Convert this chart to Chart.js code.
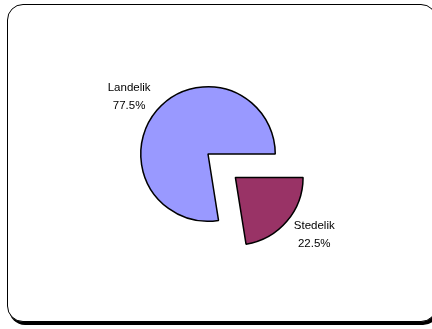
<!DOCTYPE html>
<html>
<head>
<meta charset="utf-8">
<script src="https://cdn.jsdelivr.net/npm/chart.js@4/dist/chart.umd.min.js"></script>
<style>
  html, body { margin: 0; padding: 0; background: #fff; overflow: hidden; }
  body { width: 432px; height: 329px; position: relative; }
  #frame {
    position: absolute; left: 7px; top: 4px; width: 430px; height: 318px;
    border: 1px solid #000; border-radius: 16px; box-sizing: border-box;
    box-shadow: 2px 3px 0 #000; background: #fff;
  }
  #wrap { position: absolute; left: 0; top: 0; width: 432px; height: 329px; }
</style>
</head>
<body>
<div id="frame"></div>
<div id="wrap"><canvas id="c" width="432" height="329"></canvas></div>
<script>
// Population share by settlement type
const categories = ['Stedelik', 'Landelik'];
const shares = [22.5, 77.5];
const sliceColors = ['#993366', '#9999FF'];
const explodePx = [36, 0];   // how far each slice is pulled out, in pixels

// Chart.js moves an arc by offset / 4, so scale the pull-out distance
const ARC_OFFSET_SCALE = 4;

// Draws "name / value%" labels outside each slice
const outsideLabels = {
  id: 'outsideLabels',
  afterDatasetsDraw(chart) {
    const ctx = chart.ctx;
    const meta = chart.getDatasetMeta(0);
    ctx.save();
    ctx.font = '11.5px "Liberation Sans", Arial, sans-serif';
    ctx.fillStyle = '#000';
    ctx.textAlign = 'center';
    ctx.textBaseline = 'middle';
    meta.data.forEach((arc, i) => {
      const p = arc.getProps(['x', 'y', 'startAngle', 'endAngle', 'outerRadius'], true);
      const mid = (p.startAngle + p.endAngle) / 2;
      const cx = p.x + Math.cos(mid) * explodePx[i];
      const cy = p.y + Math.sin(mid) * explodePx[i];
      const a = mid - 4.5 * Math.PI / 180;
      const r = p.outerRadius * 1.45;
      const lx = cx + Math.cos(a) * r;
      const ly = cy + Math.sin(a) * r;
      ctx.fillText(categories[i], lx, ly - 8.5);
      ctx.fillText(shares[i].toFixed(1) + '%', lx, ly + 9);
    });
    ctx.restore();
  }
};

new Chart(document.getElementById('c'), {
  type: 'pie',
  data: {
    labels: categories,
    datasets: [{
      data: shares,
      backgroundColor: sliceColors,
      borderColor: '#000',
      borderWidth: 1.5,
      offset: explodePx.map(v => v * ARC_OFFSET_SCALE),
      hoverOffset: 0
    }]
  },
  options: {
    responsive: false,
    animation: false,
    rotation: 90,
    layout: { padding: { left: 68, right: 84, top: 14, bottom: 35 } },
    plugins: { legend: { display: false }, tooltip: { enabled: false } }
  },
  plugins: [outsideLabels]
});
</script>
</body>
</html>
